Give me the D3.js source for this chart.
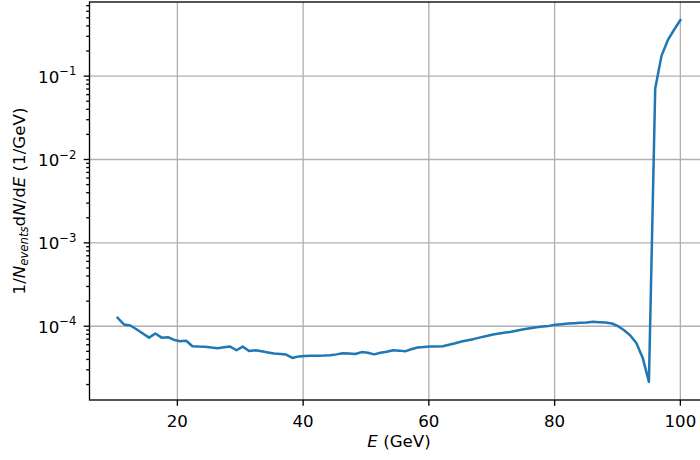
<!DOCTYPE html>
<meta charset="utf-8">
<style>
	body {
	margin: 0;
	background-color: #fff;
	}
	text {
	font-family: "DejaVu Sans", sans-serif;
	font-size: 16.67px;
	fill: #000;
	}
	.grid line {
	stroke: #b0b0b0;
	stroke-width: 1.33;
	}
	.spine {
	fill: none;
	stroke: #000;
	stroke-width: 1.33;
	}
	.ticks line {
	stroke: #000;
	stroke-width: 1.33;
	}
	.curve {
	fill: none;
	stroke: #1f77b4;
	stroke-width: 2.5;
	stroke-linejoin: round;
	stroke-linecap: square;
	}
</style>
<body>
	<script src="https://cdn.jsdelivr.net/npm/d3@7"></script>
	<script>
		// energy bin centres (GeV)
		var energy = [10.5, 11.5, 12.5, 13.5, 14.5, 15.5, 16.5, 17.5, 18.5, 19.4,
		              20.4, 21.4, 22.4, 23.4, 24.4, 25.4, 26.4, 27.4, 28.4, 29.4,
		              30.4, 31.4, 32.4, 33.4, 34.4, 35.4, 36.4, 37.3, 38.3, 39.3,
		              40.3, 41.3, 42.3, 43.3, 44.3, 45.3, 46.3, 47.3, 48.3, 49.3,
		              50.3, 51.3, 52.3, 53.3, 54.3, 55.3, 56.2, 57.2, 58.2, 59.2,
		              60.2, 61.2, 62.2, 63.2, 64.2, 65.2, 66.2, 67.2, 68.2, 69.2,
		              70.2, 71.2, 72.2, 73.1, 74.1, 75.1, 76.1, 77.1, 78.1, 79.1,
		              80.1, 81.1, 82.1, 83.1, 84.1, 85.1, 86.1, 87.1, 88.1, 89.1,
		              90.1, 91.0, 92.0, 93.0, 94.0, 95.0, 96.0, 97.0, 98.0, 99.0,
		              100.0];

		// 1/N dN/dE (1/GeV)
		var spectrum = [1.26e-4, 1.05e-4, 1.02e-4, 9.2e-5, 8.2e-5, 7.3e-5, 8.2e-5, 7.3e-5, 7.4e-5, 6.9e-5,
		                6.6e-5, 6.7e-5, 5.75e-5, 5.7e-5, 5.68e-5, 5.55e-5, 5.45e-5, 5.6e-5, 5.7e-5, 5.15e-5,
		                5.7e-5, 5.05e-5, 5.15e-5, 5.0e-5, 4.85e-5, 4.72e-5, 4.65e-5, 4.57e-5, 4.17e-5, 4.35e-5,
		                4.4e-5, 4.42e-5, 4.42e-5, 4.45e-5, 4.5e-5, 4.6e-5, 4.75e-5, 4.7e-5, 4.65e-5, 4.9e-5,
		                4.8e-5, 4.6e-5, 4.8e-5, 4.95e-5, 5.15e-5, 5.1e-5, 5.0e-5, 5.3e-5, 5.55e-5, 5.65e-5,
		                5.7e-5, 5.72e-5, 5.75e-5, 6.0e-5, 6.25e-5, 6.55e-5, 6.8e-5, 7.05e-5, 7.35e-5, 7.65e-5,
		                7.95e-5, 8.2e-5, 8.4e-5, 8.6e-5, 8.9e-5, 9.2e-5, 9.45e-5, 9.7e-5, 9.9e-5, 1.01e-4,
		                1.04e-4, 1.06e-4, 1.08e-4, 1.09e-4, 1.10e-4, 1.11e-4, 1.13e-4, 1.12e-4, 1.11e-4, 1.08e-4,
		                1.0e-4, 9.0e-5, 7.8e-5, 6.3e-5, 4.2e-5, 2.15e-5, 0.071, 0.175, 0.27, 0.36,
		                0.47];

		var xTicks = [20, 40, 60, 80, 100];
		var yDecades = [-4, -3, -2, -1];
		var yTickLabels = ["\u22124", "\u22123", "\u22122", "\u22121"];

		var width = 700,
		    height = 460;

		var plot = {left: 89.5, right: 708.5, top: 2, bottom: 400};

		// matplotlib style 5% margins
		var xMin = d3.min(energy), xMax = d3.max(energy),
		    xPad = (xMax - xMin) * 0.05;
		var lo = Math.log10(d3.min(spectrum)), hi = Math.log10(d3.max(spectrum)),
		    lPad = (hi - lo) * 0.05;

		var x = d3.scaleLinear()
		    .domain([xMin - xPad, xMax + xPad])
		    .range([plot.left, plot.right]);

		var y = d3.scaleLog()
		    .domain([Math.pow(10, lo - lPad), Math.pow(10, hi + lPad)])
		    .range([plot.bottom, plot.top]);

		var svg = d3.select("body").append("svg")
		            .attr("width", width)
		            .attr("height", height);

		var majorLen = 5.8, minorLen = 3.3, pad = 5.8;

		// grid
		var grid = svg.append("g").attr("class", "grid");
		grid.selectAll(".gx").data(xTicks)
		  .enter().append("line")
		    .attr("x1", function(d) { return x(d); })
		    .attr("x2", function(d) { return x(d); })
		    .attr("y1", plot.top)
		    .attr("y2", plot.bottom);
		grid.selectAll(".gy").data(yDecades)
		  .enter().append("line")
		    .attr("x1", plot.left)
		    .attr("x2", plot.right)
		    .attr("y1", function(d) { return y(Math.pow(10, d)); })
		    .attr("y2", function(d) { return y(Math.pow(10, d)); });

		// data line
		var line = d3.line()
		    .x(function(d, i) { return x(energy[i]); })
		    .y(function(d) { return y(d); });

		svg.append("path")
		    .datum(spectrum)
		    .attr("class", "curve")
		    .attr("d", line);

		// frame
		svg.append("rect")
		    .attr("class", "spine")
		    .attr("x", plot.left)
		    .attr("y", plot.top)
		    .attr("width", plot.right - plot.left)
		    .attr("height", plot.bottom - plot.top);

		// x ticks
		var xt = svg.append("g").attr("class", "ticks");
		xt.selectAll("line").data(xTicks)
		  .enter().append("line")
		    .attr("x1", function(d) { return x(d); })
		    .attr("x2", function(d) { return x(d); })
		    .attr("y1", plot.bottom)
		    .attr("y2", plot.bottom + majorLen);
		xt.selectAll("text").data(xTicks)
		  .enter().append("text")
		    .attr("x", function(d) { return x(d); })
		    .attr("y", 427)
		    .attr("text-anchor", "middle")
		    .text(function(d) { return d; });

		// y minor ticks
		var minors = [];
		[-5, -4, -3, -2, -1].forEach(function(dec) {
		  for (var m = 2; m <= 9; m++) {
		    var v = m * Math.pow(10, dec);
		    if (v >= y.domain()[0] && v <= y.domain()[1]) minors.push(v);
		  }
		});
		var yt = svg.append("g").attr("class", "ticks");
		yt.selectAll(".minor").data(minors)
		  .enter().append("line")
		    .attr("x1", plot.left - minorLen)
		    .attr("x2", plot.left)
		    .attr("y1", function(d) { return y(d); })
		    .attr("y2", function(d) { return y(d); });
		yt.selectAll(".major").data(yDecades)
		  .enter().append("line")
		    .attr("x1", plot.left - majorLen)
		    .attr("x2", plot.left)
		    .attr("y1", function(d) { return y(Math.pow(10, d)); })
		    .attr("y2", function(d) { return y(Math.pow(10, d)); });

		var yl = yt.selectAll("text").data(yDecades)
		  .enter().append("text")
		    .attr("x", 76.5)
		    .attr("y", function(d) { return y(Math.pow(10, d)) + 6.5; })
		    .attr("text-anchor", "end");
		yl.append("tspan").text("10");
		yl.append("tspan")
		    .attr("dy", -7.5)
		    .style("font-size", "11.7px")
		    .text(function(d, i) { return yTickLabels[i]; });

		// axis labels
		var xl = svg.append("text")
		    .attr("x", (plot.left + plot.right) / 2)
		    .attr("y", 447)
		    .attr("text-anchor", "middle");
		xl.append("tspan").style("font-style", "italic").text("E");
		xl.append("tspan").text(" (GeV)");

		var ylab = svg.append("text")
		    .attr("transform", "translate(24.5," + ((plot.top + plot.bottom) / 2) + ") rotate(-90)")
		    .attr("text-anchor", "middle");
		ylab.append("tspan").text("1/");
		ylab.append("tspan").style("font-style", "italic").text("N");
		ylab.append("tspan").style("font-style", "italic").style("font-size", "11.67px")
		    .attr("dy", 3.5).text("events");
		ylab.append("tspan").attr("dy", -3.5).text("d");
		ylab.append("tspan").style("font-style", "italic").text("N");
		ylab.append("tspan").text("/d");
		ylab.append("tspan").style("font-style", "italic").text("E");
		ylab.append("tspan").text(" (1/GeV)");
	</script>
</body>
